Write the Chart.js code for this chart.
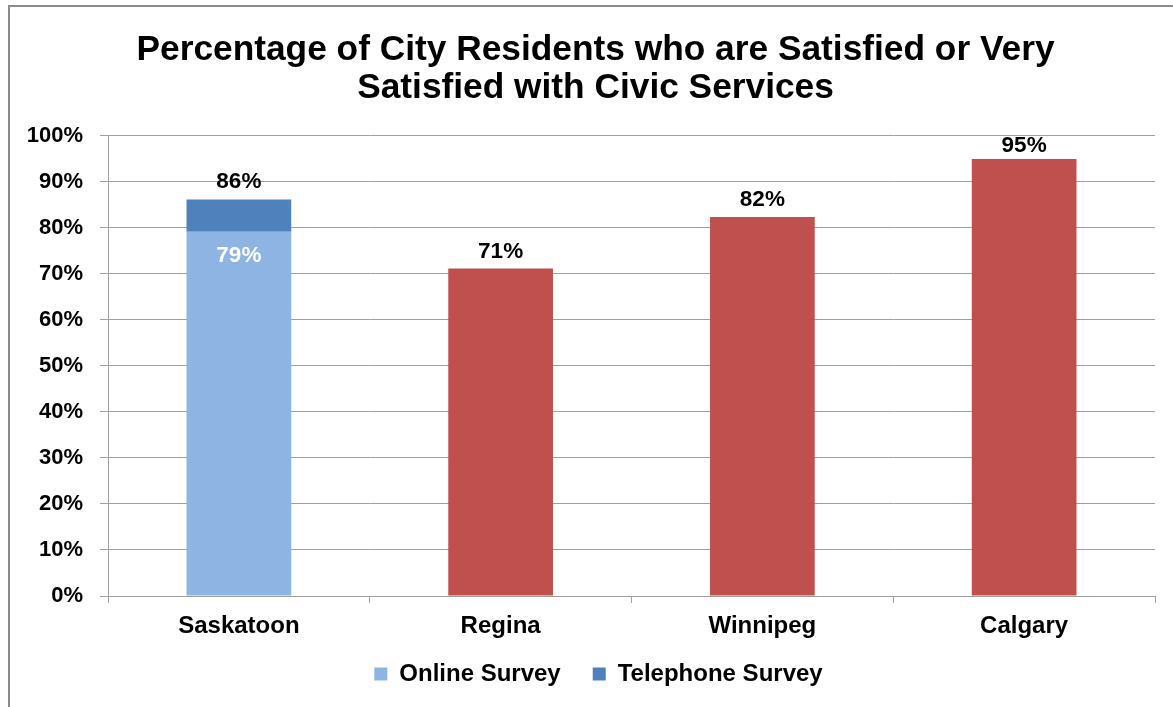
<!DOCTYPE html>
<html>
<head>
<meta charset="utf-8">
<script src="https://cdn.jsdelivr.net/npm/chart.js@4"></script>
<style>
  html, body { margin: 0; padding: 0; background: #fff; overflow: hidden; }
  #wrap { position: relative; width: 1173px; height: 707px; }
  #frame { position: absolute; left: 8px; top: 5px; width: 1200px; height: 760px; border: 2px solid #8c8c8c; box-sizing: border-box; pointer-events: none; }
  canvas { position: absolute; left: 0; top: 0; }
</style>
</head>
<body>
<div id="wrap">
  <div id="frame"></div>
  <canvas id="c" width="1173" height="707"></canvas>
</div>
<script>
const categories = ["Saskatoon", "Regina", "Winnipeg", "Calgary"];
const onlineSurvey = [79.2, null, null, null];
const telephoneSurvey = [7.0, null, null, null];
const otherCities = [null, 71.2, 82.4, 95.0];
const yTickLabels = ["0%", "10%", "20%", "30%", "40%", "50%", "60%", "70%", "80%", "90%", "100%"];
const titleLines = ["Percentage of City Residents who are Satisfied or Very", "Satisfied with Civic Services"];

const FONT = "'Liberation Sans', Arial, sans-serif";

const labelPlugin = {
  id: 'valueLabels',
  afterDatasetsDraw(chart) {
    const ctx = chart.ctx;
    const area = chart.chartArea;
    ctx.save();
    ctx.font = "bold 22.5px " + FONT;
    ctx.textAlign = 'center';
    ctx.textBaseline = 'middle';
    chart.data.datasets.forEach((ds, di) => {
      const meta = chart.getDatasetMeta(di);
      meta.data.forEach((el, i) => {
        const v = ds.data[i];
        if (v === null || v === undefined) return;
        if (ds.label === 'Online Survey') {
          ctx.fillStyle = '#ffffff';
          ctx.fillText(Math.round(v) + '%', el.x, el.y + 24);
        } else if (ds.label === 'Telephone Survey') {
          const total = v + (onlineSurvey[i] || 0);
          ctx.fillStyle = '#000000';
          ctx.fillText(Math.round(total) + '%', el.x, Math.max(el.y - 18, area.top + 10));
        } else {
          ctx.fillStyle = '#000000';
          ctx.fillText(Math.round(v) + '%', el.x, Math.max(el.y - 17, area.top + 10));
        }
      });
    });
    ctx.restore();
  }
};

// small placement adjustments of the title and legend blocks
const nudgePlugin = {
  id: 'nudge',
  afterLayout(chart) {
    const t = chart.titleBlock;
    if (t) { t.left += 6; t.right += 6; }
    const lg = chart.legend;
    if (lg) { lg.left += 9; lg.right += 9; lg.top -= 22; lg.bottom -= 22; }
  }
};

new Chart(document.getElementById('c'), {
  type: 'bar',
  data: {
    labels: categories,
    datasets: [
      { label: 'Online Survey', data: onlineSurvey, backgroundColor: '#8EB4E3', stack: 's' },
      { label: 'Telephone Survey', data: telephoneSurvey, backgroundColor: '#4F81BD', stack: 's' },
      { label: 'Other', data: otherCities, backgroundColor: '#C0504D', stack: 's' }
    ]
  },
  options: {
    responsive: false,
    animation: false,
    devicePixelRatio: 1,
    categoryPercentage: 1.0,
    barPercentage: 0.4,
    layout: { padding: { left: 24, right: 18, top: 0, bottom: -11 } },
    plugins: {
      title: {
        display: true,
        text: titleLines,
        color: '#000',
        font: { family: FONT, size: 35.3, weight: 'bold', lineHeight: 1.076 },
        padding: { top: 31, bottom: 29 }
      },
      legend: {
        position: 'bottom',
        labels: {
          filter: (item) => item.text !== 'Other',
          color: '#000',
          font: { family: FONT, size: 24, weight: 'bold' },
          boxWidth: 13,
          boxHeight: 13,
          padding: 32
        }
      },
      tooltip: { enabled: false }
    },
    scales: {
      x: {
        stacked: true,
        grid: { display: true, drawOnChartArea: false, offset: true, tickLength: 7, color: '#a0a0a0' },
        border: { display: true, color: '#a0a0a0' },
        ticks: { color: '#000', font: { family: FONT, size: 24, weight: 'bold' }, padding: 9 },
        afterFit(scale) { scale.height = 56; }
      },
      y: {
        stacked: true,
        min: 0,
        max: 100,
        grid: { color: '#a0a0a0', tickLength: 8 },
        border: { display: true, color: '#a0a0a0' },
        ticks: {
          stepSize: 10,
          color: '#000',
          font: { family: FONT, size: 22, weight: 'bold' },
          padding: 17,
          callback: (v) => yTickLabels[Math.round(v / 10)]
        },
        afterFit(scale) { scale.width = 84; }
      }
    }
  },
  plugins: [labelPlugin, nudgePlugin]
});
</script>
</body>
</html>
